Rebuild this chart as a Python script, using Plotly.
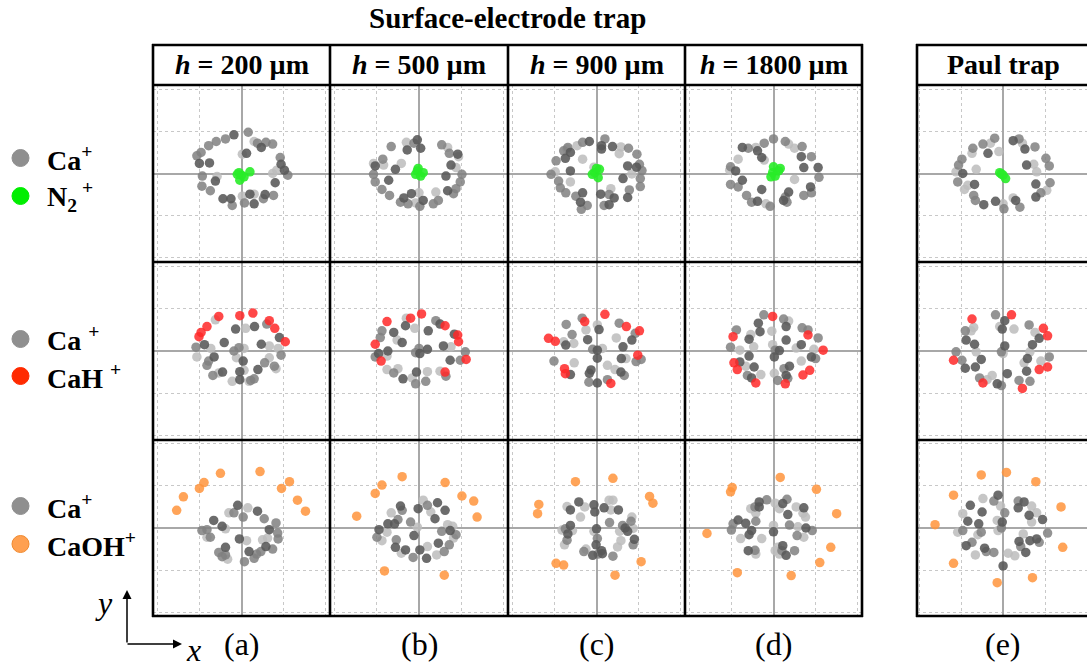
import plotly.graph_objects as go

W, H = 1087, 670

# ---------------- data: ion positions (x, y, shade) ----------------
# shade: D = dark, M = medium, L = light grey Ca+ ions
A1_CA = [(0.16,0.98,'M'),(-0.18,0.92,'D'),(-0.38,0.82,'M'),(-0.60,0.76,'M'),(-0.78,0.66,'M'),(0.30,0.76,'L'),
         (0.38,0.72,'M'),(0.58,0.74,'M'),(0.74,0.70,'M'),(0.47,0.62,'D'),(-0.96,0.50,'M'),(-1.06,0.42,'M'),
         (0.12,0.48,'D'),(0.02,0.46,'L'),(0.92,0.38,'M'),(-1.00,0.24,'D'),(-0.76,0.25,'D'),(0.94,0.22,'D'),
         (1.02,0.08,'D'),(1.10,-0.04,'M'),(0.74,0.00,'L'),(0.84,0.08,'L'),(-0.93,-0.06,'M'),(-0.58,-0.07,'L'),
         (-0.62,-0.18,'D'),(-0.94,-0.30,'M'),(0.80,-0.22,'D'),(-0.74,-0.41,'M'),(-0.44,-0.60,'D'),(-0.25,-0.60,'D'),
         (-0.22,-0.76,'M'),(0.02,-0.54,'L'),(0.20,-0.49,'D'),(0.30,-0.49,'L'),(0.56,-0.50,'D'),(0.76,-0.52,'M'),
         (0.52,-0.60,'M'),(0.07,-0.70,'M'),(0.30,-0.72,'D')]
A1_IMP = [(-0.06,0.02),(0.0,-0.04),(0.2,0.04),(-0.04,-0.16),(0.06,-0.08),(-0.1,-0.02)]

B1_CA = [(-0.04,0.80,'D'),(-0.30,0.74,'L'),(-0.66,0.64,'M'),(0.04,0.60,'D'),(-0.28,0.56,'D'),(-0.12,0.72,'M'),
         (0.54,0.68,'M'),(0.68,0.62,'L'),(0.72,0.48,'M'),(0.92,0.46,'D'),(0.94,0.40,'L'),(-0.86,0.34,'M'),
         (-1.08,0.24,'L'),(-1.04,0.18,'D'),(-0.84,0.20,'L'),(-0.42,0.24,'L'),(-0.56,0.10,'D'),(0.76,0.20,'D'),
         (0.88,0.14,'L'),(1.02,-0.02,'M'),(-1.08,-0.02,'M'),(0.64,-0.06,'D'),(-1.04,-0.20,'M'),(-0.72,-0.16,'D'),
         (0.98,-0.20,'M'),(-0.88,-0.38,'M'),(0.88,-0.36,'M'),(0.68,-0.41,'D'),(0.82,-0.48,'M'),(-0.70,-0.52,'M'),
         (0.40,-0.44,'L'),(-0.18,-0.48,'D'),(0.0,-0.46,'L'),(-0.36,-0.58,'D'),(-0.44,-0.68,'M'),(-0.26,-0.72,'M'),
         (0.10,-0.64,'D'),(0.02,-0.78,'M'),(0.46,-0.64,'M'),(0.34,-0.72,'M'),(-0.08,-0.70,'L')]
B1_IMP = [(-0.04,0.06),(-0.08,-0.02),(0.04,-0.06),(0.10,0.02),(-0.02,0.12)]

C1_CA = [(0.20,0.82,'M'),(-0.17,0.76,'D'),(-0.33,0.74,'M'),(-0.46,0.66,'L'),(-0.68,0.62,'M'),(-0.78,0.54,'M'),
         (-0.70,0.58,'L'),(0.12,0.66,'D'),(0.12,0.58,'D'),(0.38,0.64,'D'),(0.58,0.63,'L'),(0.76,0.60,'M'),
         (0.54,0.47,'L'),(0.96,0.46,'M'),(-0.62,0.50,'D'),(-0.74,0.36,'D'),(-0.96,0.30,'M'),(-0.33,0.34,'L'),
         (-0.06,0.15,'L'),(0.74,0.18,'D'),(0.95,0.15,'D'),(1.02,0.22,'M'),(1.08,0.07,'M'),(-1.08,-0.02,'M'),
         (-0.98,0.04,'L'),(-0.62,0.06,'D'),(0.63,-0.12,'D'),(0.84,-0.01,'L'),(1.04,-0.12,'M'),(-0.90,-0.18,'M'),
         (-0.62,-0.20,'L'),(-0.86,-0.34,'M'),(-0.73,-0.46,'M'),(1.04,-0.31,'M'),(0.78,-0.39,'M'),(-0.33,-0.46,'D'),
         (-0.49,-0.54,'M'),(-0.38,-0.68,'D'),(-0.22,-0.76,'M'),(-0.36,-0.85,'M'),(0.10,-0.49,'D'),(0.34,-0.36,'L'),
         (0.30,-0.50,'M'),(0.42,-0.58,'D'),(0.74,-0.57,'D'),(0.18,-0.76,'M'),(0.30,-0.74,'D')]
C1_IMP = [(0.07,0.10),(-0.04,0.02),(0.04,-0.10),(-0.10,-0.02),(0.0,0.12)]

D1_CA = [(0.0,0.82,'M'),(-0.22,0.72,'M'),(0.28,0.76,'M'),(0.36,0.70,'L'),(0.50,0.60,'L'),(0.68,0.64,'M'),
         (-0.74,0.62,'D'),(-0.60,0.60,'M'),(-0.42,0.62,'L'),(-0.38,0.54,'D'),(-0.28,0.38,'D'),(-0.22,0.32,'L'),
         (0.66,0.40,'D'),(0.90,0.40,'M'),(-0.84,0.34,'L'),(-1.02,0.16,'M'),(-1.04,0.08,'L'),(-0.90,0.06,'D'),
         (0.72,0.14,'D'),(1.06,0.14,'D'),(1.08,-0.09,'M'),(0.50,-0.14,'L'),(-0.74,-0.16,'D'),(-1.02,-0.26,'M'),
         (-0.84,-0.32,'M'),(0.88,-0.32,'D'),(0.72,-0.52,'M'),(0.90,-0.46,'M'),(-0.64,-0.52,'M'),(-0.28,-0.38,'D'),
         (0.36,-0.44,'D'),(0.28,-0.56,'M'),(0.24,-0.64,'D'),(-0.38,-0.66,'D'),(-0.52,-0.68,'M'),(-0.18,-0.72,'L'),
         (-0.08,-0.78,'M'),(0.32,-0.68,'M')]
D1_IMP = [(0.0,0.16),(-0.02,0.02),(0.04,-0.06),(0.12,0.06),(-0.06,-0.08),(0.16,0.12)]

E1_CA = [(-0.20,0.84,'M'),(-0.48,0.70,'M'),(-0.30,0.72,'L'),(-0.72,0.60,'M'),(-0.74,0.48,'L'),(-0.36,0.48,'D'),
         (-0.10,0.52,'L'),(0.24,0.78,'D'),(0.38,0.82,'M'),(0.46,0.72,'L'),(0.52,0.58,'D'),(0.76,0.63,'M'),
         (1.02,0.36,'M'),(1.10,0.18,'M'),(-0.98,0.34,'M'),(-1.06,0.20,'M'),(-1.12,0.04,'L'),(-0.96,0.0,'D'),
         (-0.64,0.10,'L'),(0.56,0.20,'D'),(0.73,0.22,'L'),(0.80,0.04,'L'),(-1.08,-0.20,'M'),(-0.84,-0.28,'L'),
         (-0.68,-0.26,'D'),(-0.92,-0.38,'L'),(0.78,-0.25,'D'),(1.12,-0.22,'M'),(1.04,-0.40,'L'),(0.90,-0.46,'M'),
         (0.78,-0.56,'D'),(-0.70,-0.52,'M'),(-0.66,-0.64,'M'),(-0.46,-0.74,'D'),(-0.18,-0.66,'D'),(0.0,-0.72,'L'),
         (0.02,-0.84,'M'),(0.24,-0.58,'L'),(0.30,-0.64,'D'),(0.40,-0.80,'M')]
E1_IMP = [(-0.08,0.02),(0.0,-0.04),(0.06,-0.12),(-0.04,-0.01)]

A2_CA = [(-0.62,0.74,'L'),(-0.14,0.52,'D'),(0.10,0.54,'L'),(0.31,0.58,'D'),(0.60,0.64,'M'),(0.90,0.32,'D'),
         (-0.41,0.20,'D'),(-0.88,0.15,'D'),(-1.08,0.09,'M'),(-1.06,-0.14,'L'),(-0.78,-0.24,'M'),(-0.82,-0.34,'M'),
         (-0.65,-0.14,'D'),(-0.73,0.06,'L'),(-0.18,0.0,'M'),(-0.06,0.08,'M'),(0.06,0.06,'L'),(-0.12,-0.16,'L'),
         (0.04,-0.24,'D'),(0.47,0.16,'D'),(0.66,0.12,'L'),(0.94,-0.10,'M'),(0.87,0.06,'L'),(0.66,-0.16,'L'),
         (0.55,-0.28,'M'),(0.39,-0.44,'D'),(0.78,-0.36,'M'),(0.82,-0.42,'L'),(-0.68,-0.58,'M'),(-0.54,-0.52,'L'),
         (-0.45,-0.50,'D'),(-0.04,-0.49,'D'),(0.06,-0.46,'L'),(-0.22,-0.72,'L'),(-0.04,-0.68,'D'),(0.22,-0.70,'M'),
         (0.30,-0.66,'M'),(0.18,-0.72,'L')]
A2_IMP = [(-0.54,0.82),(-0.04,0.84),(0.27,0.90),(0.66,0.72),(0.79,0.54),(1.04,0.22),(-0.82,0.58),
          (-1.01,0.34),(-0.96,0.44)]

B2_CA = [(-0.30,0.78,'L'),(-0.32,0.60,'D'),(-0.10,0.54,'L'),(0.22,0.48,'D'),(0.40,0.72,'M'),(0.50,0.64,'D'),
         (0.84,0.40,'D'),(-0.88,0.48,'M'),(-0.60,0.44,'D'),(-0.92,0.32,'M'),(-0.52,0.26,'L'),(-0.40,0.20,'D'),
         (-0.96,-0.06,'D'),(-1.04,-0.14,'M'),(-0.74,0.0,'D'),(-0.76,-0.12,'L'),(0.0,0.06,'M'),(-0.08,-0.04,'M'),
         (0.02,-0.06,'D'),(0.20,0.04,'D'),(0.58,0.12,'D'),(0.76,0.10,'L'),(1.10,-0.02,'M'),(0.74,-0.22,'D'),
         (0.98,-0.22,'M'),(-0.76,-0.44,'L'),(-0.60,-0.52,'M'),(-0.50,-0.42,'L'),(-0.38,-0.66,'D'),(-0.16,-0.64,'L'),
         (-0.06,-0.50,'D'),(0.20,-0.49,'L'),(-0.08,-0.78,'M'),(0.16,-0.72,'M'),(0.50,-0.48,'L'),(0.64,-0.60,'M')]
B2_IMP = [(-0.76,0.70),(-0.20,0.78),(0.06,0.88),(0.62,0.60),(0.92,0.38),(0.94,0.22),(-1.04,0.16),
          (-0.90,-0.24),(0.62,-0.50),(1.12,-0.20)]

C2_CA = [(-0.34,0.78,'M'),(-0.72,0.63,'M'),(0.02,0.62,'L'),(0.06,0.51,'D'),(0.54,0.66,'M'),(-0.58,0.39,'M'),
         (-0.25,0.50,'L'),(-0.21,0.27,'D'),(-0.54,0.18,'L'),(-0.73,0.14,'D'),(-0.78,0.22,'L'),(0.47,0.31,'L'),
         (0.84,0.26,'D'),(0.92,0.42,'M'),(0.63,0.10,'D'),(-0.09,0.04,'M'),(0.02,0.02,'D'),(0.14,0.06,'L'),
         (0.02,-0.17,'D'),(0.59,-0.18,'D'),(0.70,-0.18,'L'),(1.06,-0.20,'M'),(0.94,-0.25,'M'),(-1.01,-0.24,'M'),
         (-0.53,-0.28,'L'),(-0.62,-0.56,'D'),(0.26,-0.34,'L'),(0.44,-0.44,'L'),(0.58,-0.50,'D'),(0.66,-0.58,'M'),
         (-0.13,-0.45,'D'),(-0.17,-0.53,'D'),(-0.18,-0.74,'M'),(0.02,-0.76,'D'),(0.26,-0.68,'M')]
C2_IMP = [(0.20,0.87),(-0.28,0.70),(0.71,0.58),(1.02,0.48),(-1.14,0.30),(-0.98,0.23),(0.98,-0.10),
          (-0.76,-0.42),(-0.74,-0.54),(0.34,-0.77)]

D2_CA = [(-0.23,0.86,'M'),(-0.36,0.66,'D'),(-0.32,0.46,'D'),(-0.54,0.39,'L'),(-0.58,0.28,'D'),(-0.88,0.50,'M'),
         (-1.02,0.09,'M'),(-0.80,0.02,'L'),(-0.47,0.10,'L'),(-0.58,-0.12,'D'),(-0.80,-0.26,'D'),(-0.66,-0.36,'L'),
         (-0.46,-0.38,'D'),(-0.62,-0.58,'M'),(-0.52,-0.64,'D'),(-0.30,-0.56,'L'),(-0.04,0.47,'L'),(-0.02,0.15,'L'),
         (0.04,0.02,'M'),(0.14,0.01,'D'),(0.02,-0.14,'D'),(0.24,0.76,'M'),(0.36,0.71,'L'),(0.30,0.58,'D'),
         (0.30,0.26,'D'),(0.68,0.55,'M'),(0.82,0.50,'M'),(1.06,0.31,'M'),(0.66,0.15,'D'),(0.54,0.07,'L'),
         (0.96,0.04,'L'),(0.90,-0.14,'D'),(1.00,-0.18,'M'),(0.66,-0.24,'L'),(0.38,-0.36,'D'),(0.30,-0.58,'D'),
         (0.34,-0.65,'M'),(0.10,-0.70,'M'),(0.02,-0.53,'L'),(0.25,-0.42,'M')]
D2_IMP = [(-0.02,0.82),(0.82,0.38),(1.18,0.02),(-0.96,0.34),(-0.94,-0.28),(-0.86,-0.44),(-0.42,-0.76),
          (0.28,-0.78),(0.86,-0.46),(0.70,-0.57)]

E2_CA = [(-0.18,0.86,'M'),(0.04,0.72,'D'),(-0.08,0.58,'L'),(-0.02,0.52,'D'),(0.26,0.52,'L'),(-0.90,0.48,'M'),
         (-0.76,0.48,'L'),(-0.70,0.56,'L'),(-0.88,0.26,'D'),(-0.68,0.16,'D'),(-0.64,-0.02,'L'),(-1.12,-0.02,'M'),
         (-0.98,-0.22,'M'),(-0.90,-0.41,'D'),(-0.66,-0.38,'D'),(-0.52,-0.20,'D'),(0.04,0.12,'D'),(-0.04,-0.02,'M'),
         (0.0,-0.06,'L'),(0.62,0.62,'M'),(0.76,0.44,'L'),(0.86,0.30,'D'),(0.70,0.15,'D'),(0.64,-0.02,'L'),
         (0.58,-0.18,'D'),(0.50,-0.28,'L'),(0.56,-0.48,'D'),(0.90,-0.24,'L'),(1.10,-0.14,'M'),(-0.56,-0.64,'M'),
         (-0.26,-0.58,'L'),(-0.38,-0.68,'L'),(-0.14,-0.78,'D'),(-0.04,-0.82,'M'),(0.10,-0.54,'D'),(0.38,-0.70,'M'),
         (0.64,-0.72,'M')]
E2_IMP = [(-0.74,0.76),(0.20,0.86),(0.96,0.54),(1.06,0.36),(-1.18,-0.22),(0.86,-0.44),(1.06,-0.38),
          (-0.48,-0.76),(0.46,-0.89)]

A3_CA = [(-0.09,0.54,'D'),(-0.30,0.36,'L'),(-0.18,0.36,'M'),(0.15,0.48,'L'),(0.04,0.26,'M'),(0.38,0.40,'D'),
         (0.54,0.22,'M'),(-0.66,0.18,'D'),(-0.46,0.04,'D'),(-0.38,-0.02,'L'),(-0.94,-0.06,'M'),(-0.82,-0.04,'M'),
         (-0.82,-0.22,'L'),(-0.74,-0.22,'M'),(0.82,0.12,'M'),(0.66,-0.04,'D'),(0.86,-0.12,'M'),(0.87,-0.26,'M'),
         (0.50,-0.28,'L'),(0.62,-0.24,'L'),(-0.05,-0.26,'D'),(0.12,-0.30,'L'),(-0.38,-0.46,'D'),(-0.54,-0.58,'M'),
         (-0.38,-0.64,'M'),(-0.33,-0.74,'L'),(-0.46,-0.68,'M'),(0.18,-0.56,'D'),(0.36,-0.62,'M'),(0.58,-0.44,'D'),
         (0.74,-0.50,'M'),(0.46,-0.56,'M'),(0.07,-0.80,'M'),(0.30,-0.72,'M')]
A3_IMP = [(-1.54,0.42),(-1.38,0.74),(-0.89,1.08),(-1.00,0.94),(-0.50,1.30),(0.44,1.34),(1.14,1.10),
          (0.95,0.94),(1.33,0.66),(1.52,0.40)]

B3_CA = [(0.10,0.66,'L'),(0.20,0.54,'M'),(-0.02,0.46,'D'),(0.44,0.60,'D'),(0.62,0.42,'D'),(0.28,0.38,'L'),
         (0.38,0.22,'D'),(-0.44,0.52,'D'),(-0.40,0.42,'M'),(-0.66,0.36,'L'),(-0.50,0.20,'M'),(-0.58,0.10,'D'),
         (-0.74,0.10,'D'),(-0.20,0.14,'M'),(-0.04,0.02,'L'),(-0.95,-0.04,'D'),(-0.76,-0.10,'L'),(-1.00,-0.22,'M'),
         (-0.88,-0.30,'L'),(-0.54,-0.28,'M'),(-0.12,-0.18,'D'),(-0.56,-0.46,'D'),(-0.32,-0.52,'D'),(-0.42,-0.60,'L'),
         (-0.14,-0.70,'M'),(0.18,-0.72,'D'),(0.02,-0.52,'D'),(0.20,-0.44,'L'),(0.68,0.08,'L'),(0.80,0.04,'L'),
         (0.54,-0.08,'M'),(0.74,-0.06,'D'),(0.88,-0.16,'M'),(0.82,-0.24,'L'),(0.46,-0.36,'D'),(0.72,-0.40,'M'),
         (0.42,-0.64,'L'),(0.60,-0.56,'M')]
B3_IMP = [(-1.48,0.28),(-1.04,0.82),(-0.88,1.02),(-0.40,1.22),(0.62,1.08),(1.02,0.76),(1.30,0.64),
          (1.38,0.26),(-0.82,-1.02),(0.60,-1.12)]

C3_CA = [(-0.42,0.62,'D'),(-0.62,0.43,'D'),(-0.70,0.51,'L'),(-0.28,0.50,'L'),(-0.38,0.26,'L'),(-0.06,0.55,'D'),
         (-0.04,0.38,'D'),(0.18,0.48,'D'),(0.30,0.66,'L'),(0.39,0.66,'L'),(0.34,0.43,'L'),(0.52,0.43,'D'),
         (0.84,0.26,'L'),(0.82,0.16,'M'),(0.31,0.13,'M'),(-0.62,0.06,'D'),(-0.74,-0.02,'M'),(-0.82,-0.05,'L'),
         (-0.57,-0.06,'L'),(-0.68,-0.14,'D'),(-0.70,-0.29,'M'),(-0.76,-0.40,'L'),(0.0,-0.02,'D'),(-0.06,-0.08,'L'),
         (0.62,0.06,'M'),(0.68,0.0,'D'),(0.74,-0.08,'D'),(0.87,-0.01,'L'),(0.55,-0.08,'L'),(0.02,-0.25,'M'),
         (0.58,-0.30,'L'),(0.90,-0.27,'D'),(0.87,-0.40,'M'),(0.50,-0.45,'L'),(-0.01,-0.40,'D'),(0.12,-0.54,'D'),
         (0.04,-0.62,'M'),(-0.25,-0.50,'L'),(-0.30,-0.56,'M'),(-0.09,-0.65,'D'),(0.14,-0.61,'D'),(0.39,-0.67,'M')]
C3_IMP = [(-1.37,0.56),(-1.40,0.34),(-0.50,1.10),(0.39,1.18),(1.26,0.75),(1.34,0.59),(-0.96,-0.84),
          (-0.78,-0.88),(0.44,-1.12),(1.06,-0.80)]

D3_CA = [(-0.34,0.62,'D'),(-0.16,0.67,'M'),(0.04,0.59,'L'),(0.22,0.58,'D'),(0.32,0.68,'M'),(-0.44,0.50,'M'),
         (-0.54,0.46,'L'),(-0.34,0.50,'D'),(-0.42,0.35,'L'),(-0.42,0.16,'M'),(0.14,0.46,'L'),(0.54,0.50,'L'),
         (0.72,0.48,'D'),(0.70,0.35,'L'),(0.34,0.32,'D'),(0.76,0.26,'L'),(-0.84,0.19,'D'),(-0.96,0.10,'M'),
         (-1.00,-0.05,'M'),(-0.66,0.11,'D'),(0.0,0.06,'L'),(0.38,0.07,'M'),(0.58,0.03,'L'),(0.77,0.0,'D'),
         (0.92,-0.06,'M'),(-0.52,-0.06,'D'),(-0.58,-0.16,'D'),(0.0,-0.09,'D'),(0.56,-0.18,'M'),(0.72,-0.22,'L'),
         (-0.78,-0.25,'L'),(-0.28,-0.25,'L'),(-0.60,-0.54,'D'),(-0.44,-0.53,'M'),(-0.42,-0.62,'L'),(0.10,-0.46,'L'),
         (0.22,-0.42,'D'),(0.20,-0.54,'M'),(0.14,-0.62,'L'),(0.30,-0.65,'D'),(0.50,-0.54,'M'),(0.04,-0.54,'L')]
D3_IMP = [(-1.58,-0.13),(-1.02,0.86),(-0.98,0.96),(0.16,1.20),(1.02,0.92),(1.50,0.34),(1.36,-0.46),
          (1.10,-0.82),(0.42,-1.13),(-0.86,-1.06)]

E3_CA = [(-0.12,0.78,'D'),(-0.48,0.70,'L'),(-0.22,0.64,'M'),(-0.06,0.52,'L'),(0.04,0.36,'M'),(-0.78,0.54,'D'),
         (-0.96,0.34,'L'),(-0.84,0.16,'D'),(-0.50,0.38,'D'),(-0.58,0.10,'D'),(-0.14,0.18,'L'),(-0.02,0.14,'D'),
         (-0.04,0.0,'M'),(-0.12,-0.06,'L'),(-0.52,-0.10,'M'),(-0.60,-0.16,'L'),(-1.08,-0.10,'L'),(-0.96,-0.06,'M'),
         (0.36,0.64,'M'),(0.50,0.62,'D'),(0.36,0.48,'D'),(0.68,0.52,'L'),(0.62,0.30,'D'),(0.80,0.36,'L'),
         (0.94,0.20,'D'),(0.68,0.14,'L'),(1.06,-0.12,'M'),(0.48,-0.14,'L'),(0.38,-0.32,'D'),(0.42,-0.44,'M'),
         (0.64,-0.30,'D'),(0.80,-0.26,'D'),(0.86,-0.34,'M'),(0.54,-0.58,'D'),(0.28,-0.66,'L'),(0.12,-0.60,'L'),
         (-0.88,-0.42,'D'),(-0.74,-0.34,'M'),(-0.66,-0.64,'L'),(-0.44,-0.48,'D'),(-0.40,-0.56,'M'),(-0.22,-0.58,'M'),
         (0.0,-0.90,'D')]
E3_IMP = [(-1.62,0.08),(-1.18,0.78),(-0.52,1.26),(0.08,1.32),(0.78,1.10),(1.38,0.50),(1.42,-0.46),
          (-1.18,-0.84),(-0.14,-1.30),(0.70,-1.18)]

COL_HEADERS = ["<b><i>h</i> = 200 µm</b>", "<b><i>h</i> = 500 µm</b>", "<b><i>h</i> = 900 µm</b>",
               "<b><i>h</i> = 1800 µm</b>", "<b>Paul trap</b>"]
COL_LABELS = ["(a)", "(b)", "(c)", "(d)", "(e)"]
ROW_LEGENDS = [("<b>Ca<sup>+</sup></b>", "<b>N<sub>2</sub><sup> +</sup></b>"),
               ("<b>Ca <sup>+</sup></b>", "<b>CaH <sup>+</sup></b>"),
               ("<b>Ca<sup>+</sup></b>", "<b>CaOH<sup>+</sup></b>")]

# ---------------- styling / geometry ----------------
SHADES = {'D': 'rgba(88,88,88,0.88)', 'M': 'rgba(128,128,128,0.85)', 'L': 'rgba(188,188,188,0.85)'}
IMP_COLORS = ['rgba(40,236,40,0.9)', 'rgba(255,40,40,0.85)', 'rgba(255,148,60,0.85)']
LEG_COLORS = ['#00ee00', '#ff2a00', '#ffa050']
FONT = "Liberation Serif, Times New Roman, serif"

COLS = [(153, 330), (330, 508), (508, 685), (685, 862), (917, 1087)]
ROWS = [(85, 262), (262, 440), (440, 616)]
PPU = 42.1  # pixels per data unit

def px(x):
    return x / W

def py(y):
    return 1 - y / H

panels = [[A1_CA, B1_CA, C1_CA, D1_CA, E1_CA],
          [A2_CA, B2_CA, C2_CA, D2_CA, E2_CA],
          [A3_CA, B3_CA, C3_CA, D3_CA, E3_CA]]
impurities = [[A1_IMP, B1_IMP, C1_IMP, D1_IMP, E1_IMP],
              [A2_IMP, B2_IMP, C2_IMP, D2_IMP, E2_IMP],
              [A3_IMP, B3_IMP, C3_IMP, D3_IMP, E3_IMP]]

fig = go.Figure()
layout = dict(width=W, height=H, margin=dict(l=0, r=0, t=0, b=0), showlegend=False,
              paper_bgcolor='white', plot_bgcolor='white')

n = 0
for r, (y0, y1) in enumerate(ROWS):
    for c, (x0, x1) in enumerate(COLS):
        n += 1
        sfx = '' if n == 1 else str(n)
        if c == 4:
            xc = 1003.3
            xr = [-(xc - x0) / PPU, (x1 - xc) / PPU + 0.01]
        else:
            half = (x1 - x0) / 2 / PPU
            xr = [-half, half]
        yhalf = (y1 - y0) / 2 / PPU
        ax_common = dict(showticklabels=False, ticks='', showline=False, showgrid=True,
                         gridcolor='#c8c8c8', griddash='dot', gridwidth=1, dtick=1, tick0=0,
                         zeroline=True, zerolinecolor='#a8a8a8', zerolinewidth=1.6, fixedrange=True)
        layout['xaxis' + sfx] = dict(domain=[px(x0), px(x1)], range=xr, anchor='y' + sfx, **ax_common)
        layout['yaxis' + sfx] = dict(domain=[py(y1), py(y0)], range=[-yhalf, yhalf], anchor='x' + sfx, **ax_common)
        ca = panels[r][c]
        for s in ['L', 'M', 'D']:
            pts = [p for p in ca if p[2] == s]
            fig.add_trace(go.Scatter(x=[p[0] for p in pts], y=[p[1] for p in pts], mode='markers',
                                     marker=dict(size=9.5, color=SHADES[s], line=dict(width=0)),
                                     xaxis='x' + sfx, yaxis='y' + sfx, hoverinfo='skip'))
        imp = impurities[r][c]
        fig.add_trace(go.Scatter(x=[p[0] for p in imp], y=[p[1] for p in imp], mode='markers',
                                 marker=dict(size=9.5, color=IMP_COLORS[r], line=dict(width=0)),
                                 xaxis='x' + sfx, yaxis='y' + sfx, hoverinfo='skip'))

# frame lines
shapes = []
LW = 2.6
def hline(y, xa, xb):
    shapes.append(dict(type='line', xref='paper', yref='paper', x0=px(xa), x1=px(xb), y0=py(y), y1=py(y),
                       line=dict(color='black', width=LW), layer='above'))
def vline(x, ya, yb):
    shapes.append(dict(type='line', xref='paper', yref='paper', x0=px(x), x1=px(x), y0=py(ya), y1=py(yb),
                       line=dict(color='black', width=LW), layer='above'))

for y in [45, 85, 262, 440, 616]:
    hline(y, 152, 863)
    hline(y, 916, 1090)
for x in [153, 330, 508, 685, 862, 917]:
    vline(x, 44, 617)

# legend circles
leg_y = [(158, 196), (339, 376), (506, 544)]
for r, (ya, yb) in enumerate(leg_y):
    for yy, col in [(ya, '#8f8f8f'), (yb, LEG_COLORS[r])]:
        shapes.append(dict(type='circle', xref='paper', yref='paper', x0=px(12), x1=px(29),
                           y0=py(yy + 8.5), y1=py(yy - 8.5), fillcolor=col,
                           line=dict(color=col if r < 2 or yy == ya else '#f08a30', width=1)))
layout['shapes'] = shapes

def text(t, x, y, size, xanchor='center', italic=False):
    return dict(text=t, x=px(x), y=py(y), xref='paper', yref='paper', showarrow=False,
                xanchor=xanchor, yanchor='middle', font=dict(family=FONT, size=size, color='black'))

ann = []
ann.append(text('<b>Surface-electrode trap</b>', 507, 18, 29))
centers = [241.5, 419, 596.5, 773.5, 1003]
for c, t in enumerate(COL_HEADERS):
    ann.append(text(t, centers[c], 65, 28))
    ann.append(text(COL_LABELS[c], centers[c], 644, 32))
for r, (ya, yb) in enumerate(leg_y):
    for yy, t in [(ya, ROW_LEGENDS[r][0]), (yb, ROW_LEGENDS[r][1])]:
        ann.append(text(t, 45, yy, 28, xanchor='left'))
# axes arrows
ann.append(dict(text='', x=px(127), y=py(590), xref='paper', yref='paper', showarrow=True,
                ax=0, ay=54, arrowhead=2, arrowsize=1.2, arrowwidth=1.5, arrowcolor='black'))
ann.append(dict(text='', x=px(182), y=py(644), xref='paper', yref='paper', showarrow=True,
                ax=-56, ay=0, arrowhead=2, arrowsize=1.2, arrowwidth=1.5, arrowcolor='black'))
ann.append(text('<i>y</i>', 104, 603, 32))
ann.append(text('<i>x</i>', 193, 650, 32))
layout['annotations'] = ann

fig.update_layout(**layout)
fig.write_html("out.html")
